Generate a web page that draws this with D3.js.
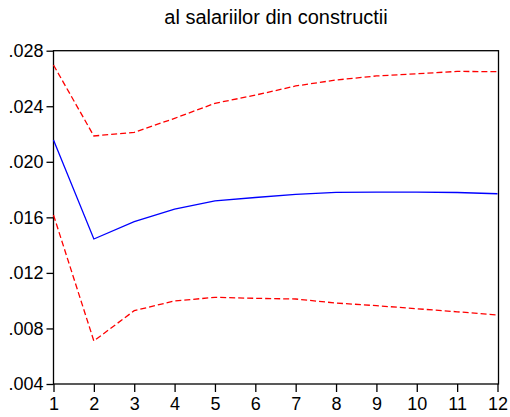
<!DOCTYPE html>
<html>
<head>
<meta charset="utf-8">
<script src="https://cdn.jsdelivr.net/npm/d3@7"></script>
<style>
  body { margin: 0; background: #fff; }
  text { font-family: "Liberation Sans", Arial, sans-serif; fill: #000; }
</style>
</head>
<body>
<div class="chart"></div>
<script>
var periods = [1, 2, 3, 4, 5, 6, 7, 8, 9, 10, 11, 12];
var response = [0.02157, 0.01444, 0.01569, 0.0166, 0.01718, 0.01743, 0.01766, 0.0178, 0.01782, 0.01782, 0.01779, 0.0177];
var upperBand = [0.02697, 0.02186, 0.02212, 0.02313, 0.02421, 0.0248, 0.02546, 0.02589, 0.02618, 0.02634, 0.02651, 0.02649];
var lowerBand = [0.01617, 0.0071, 0.00928, 0.00998, 0.01024, 0.01017, 0.01012, 0.00983, 0.00964, 0.00942, 0.0092, 0.00897];
var yTicks = [0.004, 0.008, 0.012, 0.016, 0.020, 0.024, 0.028];
var title = "al salariilor din constructii";

var width = 510, height = 417;
var plotLeft = 53.5, plotRight = 498.5, plotTop = 50.7, plotBottom = 384;

var svg = d3.select(".chart").append("svg")
    .attr("width", width)
    .attr("height", height);

var x = d3.scaleLinear().domain([1, 12]).range([plotLeft, plotRight - 1]);
var y = d3.scaleLinear().domain([0.004, 0.028]).range([plotBottom, plotTop]);

// frame
svg.append("rect")
    .attr("x", plotLeft)
    .attr("y", plotTop)
    .attr("width", plotRight - plotLeft)
    .attr("height", plotBottom - plotTop)
    .style("fill", "none")
    .style("stroke", "black")
    .style("stroke-width", "1.3px");

var fmt = function(d) { return d3.format(".3f")(d).replace(/^0/, ""); };

var yAxis = svg.append("g")
    .attr("transform", "translate(" + plotLeft + ",0)")
    .call(d3.axisLeft(y).tickValues(yTicks).tickFormat(fmt).tickSize(7).tickPadding(3));

var xAxis = svg.append("g")
    .attr("transform", "translate(0," + plotBottom + ")")
    .call(d3.axisBottom(x).tickValues(periods).tickFormat(d3.format("d")).tickSize(8).tickPadding(5));

[yAxis, xAxis].forEach(function(g) {
    g.select(".domain").remove();
    g.selectAll("line").style("stroke", "black").style("stroke-width", "1.3px");
    g.selectAll("text")
        .style("font-family", "'Liberation Sans', Arial, sans-serif")
        .style("font-size", "18px")
        .style("fill", "black");
});

var line = d3.line()
    .x(function(d, i) { return x(periods[i]); })
    .y(function(d) { return y(d); });

svg.append("path")
    .datum(upperBand)
    .attr("d", line)
    .style("fill", "none")
    .style("stroke", "#ff0000")
    .style("stroke-width", "1.3px")
    .style("stroke-dasharray", "6,3");

svg.append("path")
    .datum(lowerBand)
    .attr("d", line)
    .style("fill", "none")
    .style("stroke", "#ff0000")
    .style("stroke-width", "1.3px")
    .style("stroke-dasharray", "6,3");

svg.append("path")
    .datum(response)
    .attr("d", line)
    .style("fill", "none")
    .style("stroke", "#0000ff")
    .style("stroke-width", "1.3px");

svg.append("text")
    .text(title)
    .attr("x", (plotLeft + plotRight) / 2)
    .attr("y", 23.5)
    .attr("text-anchor", "middle")
    .style("font-size", "20px");
</script>
</body>
</html>
